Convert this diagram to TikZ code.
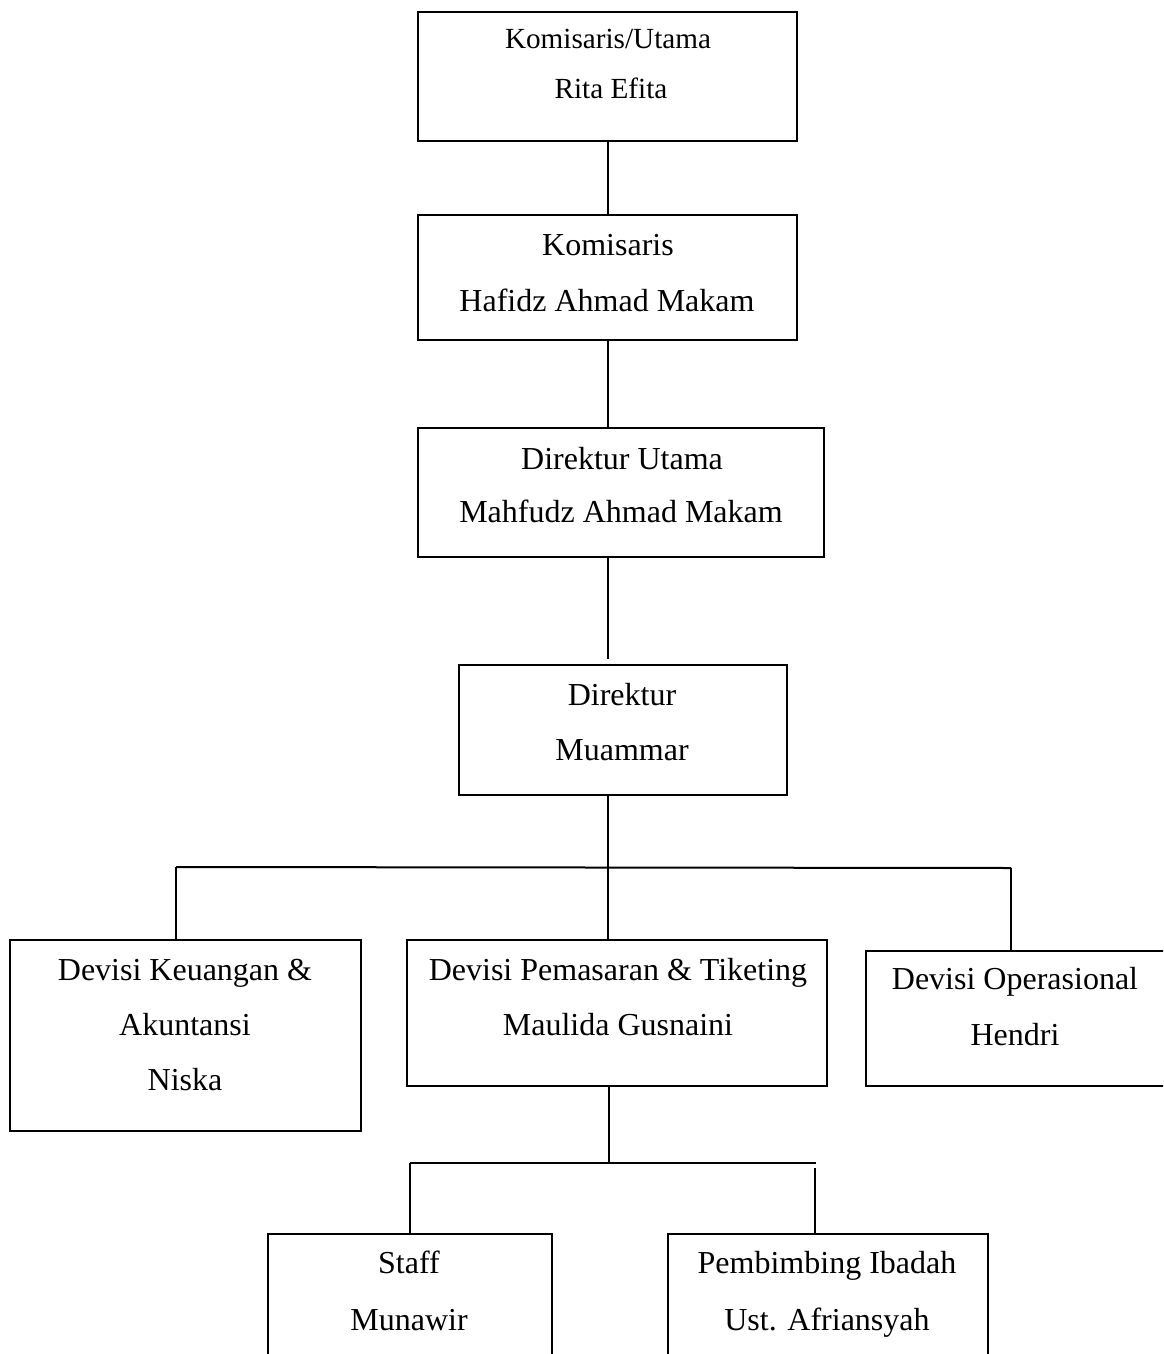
\documentclass[tikz,border=0pt]{standalone}
\usepackage{fontspec}
\setmainfont{Liberation Serif}
\begin{document}
\begin{tikzpicture}[x=0.5pt,y=-0.5pt,
  box/.style={draw=black, line width=1pt, inner sep=0pt, outer sep=0pt, rectangle},
  txt/.style={anchor=base, inner sep=0pt, font=\fontsize{16}{19}\selectfont},
  txtsm/.style={anchor=base, inner sep=0pt, font=\fontsize{14.6}{17}\selectfont},
  conn/.style={draw=black, line width=1pt}]
\useasboundingbox (0,0) rectangle (1163,1354);
\fill[white] (0,0) rectangle (1163,1354);
\clip (0,0) rectangle (1163,1354);
% boxes
\node[box, minimum width=189.5pt, minimum height=64.5pt] (b1) at (607.5,76.5) {};
\node[box, minimum width=189.5pt, minimum height=62.5pt] (b2) at (607.5,277.5) {};
\node[box, minimum width=203pt, minimum height=64.5pt] (b3) at (621,492.5) {};
\node[box, minimum width=164pt, minimum height=65pt] (b4) at (623,730) {};
\node[box, minimum width=175.5pt, minimum height=95.5pt] (b5) at (185.5,1035.5) {};
\node[box, minimum width=210pt, minimum height=73pt] (b6) at (617,1013) {};
\node[box, minimum width=167pt, minimum height=67.5pt] (b7) at (1033,1018.5) {};
\node[box, minimum width=142pt, minimum height=83pt] (b8) at (410,1317) {};
\node[box, minimum width=160pt, minimum height=83pt] (b9) at (828,1317) {};
% texts
\node[txtsm] (t1a) at (608,49) {Komisaris/Utama};
\node[txtsm] (t1b) at (611,99) {Rita Efita};
\node[txt] (t2a) at (608,255) {Komisaris};
\node[txt] (t2b) at (607,311) {Hafidz Ahmad Makam};
\node[txt] (t3a) at (622,469) {Direktur Utama};
\node[txt] (t3b) at (621,522) {Mahfudz Ahmad Makam};
\node[txt] (t4a) at (622,705) {Direktur};
\node[txt] (t4b) at (622,760) {Muammar};
\node[txt] (t5a) at (185,980) {Devisi Keuangan \&};
\node[txt] (t5b) at (185,1035) {Akuntansi};
\node[txt] (t5c) at (185,1090) {Niska};
\node[txt] (t6a) at (618,980) {Devisi Pemasaran \& Tiketing};
\node[txt] (t6b) at (618,1035) {Maulida Gusnaini};
\node[txt] (t7a) at (1015,989) {Devisi Operasional};
\node[txt] (t7b) at (1015,1045) {Hendri};
\node[txt] (t8a) at (409,1273) {Staff};
\node[txt] (t8b) at (409,1330) {Munawir};
\node[txt] (t9a) at (827,1273) {Pembimbing Ibadah};
\node[txt] (t9b) at (827,1330) {Ust. Afriansyah};
% junction coordinates
\coordinate (m3) at (608,659);
\coordinate (j1) at (608,867);
\coordinate (hL) at (176,867);
\coordinate (hR) at (1011,868);
\coordinate (j2) at (609,1163);
\coordinate (sL) at (410,1163);
\coordinate (sR) at (816,1163);
\coordinate (sR2) at (815,1168);
% connectors
\draw[conn] (b1.south -| j1) -- (b2.north -| j1);
\draw[conn] (b2.south -| j1) -- (b3.north -| j1);
\draw[conn] (b3.south -| j1) -- (m3);
\draw[conn] (b4.south -| j1) -- (b6.north -| j1);
\draw[conn] (hL) -- (hR);
\draw[conn] (hL) -- (hL |- b5.north);
\draw[conn] (hR) -- (hR |- b7.north);
\draw[conn] (b6.south -| j2) -- (j2);
\draw[conn] (sL) -- (sR);
\draw[conn] (sL) -- (sL |- b8.north);
\draw[conn] (sR2) -- (sR2 |- b9.north);
\end{tikzpicture}
\end{document}
